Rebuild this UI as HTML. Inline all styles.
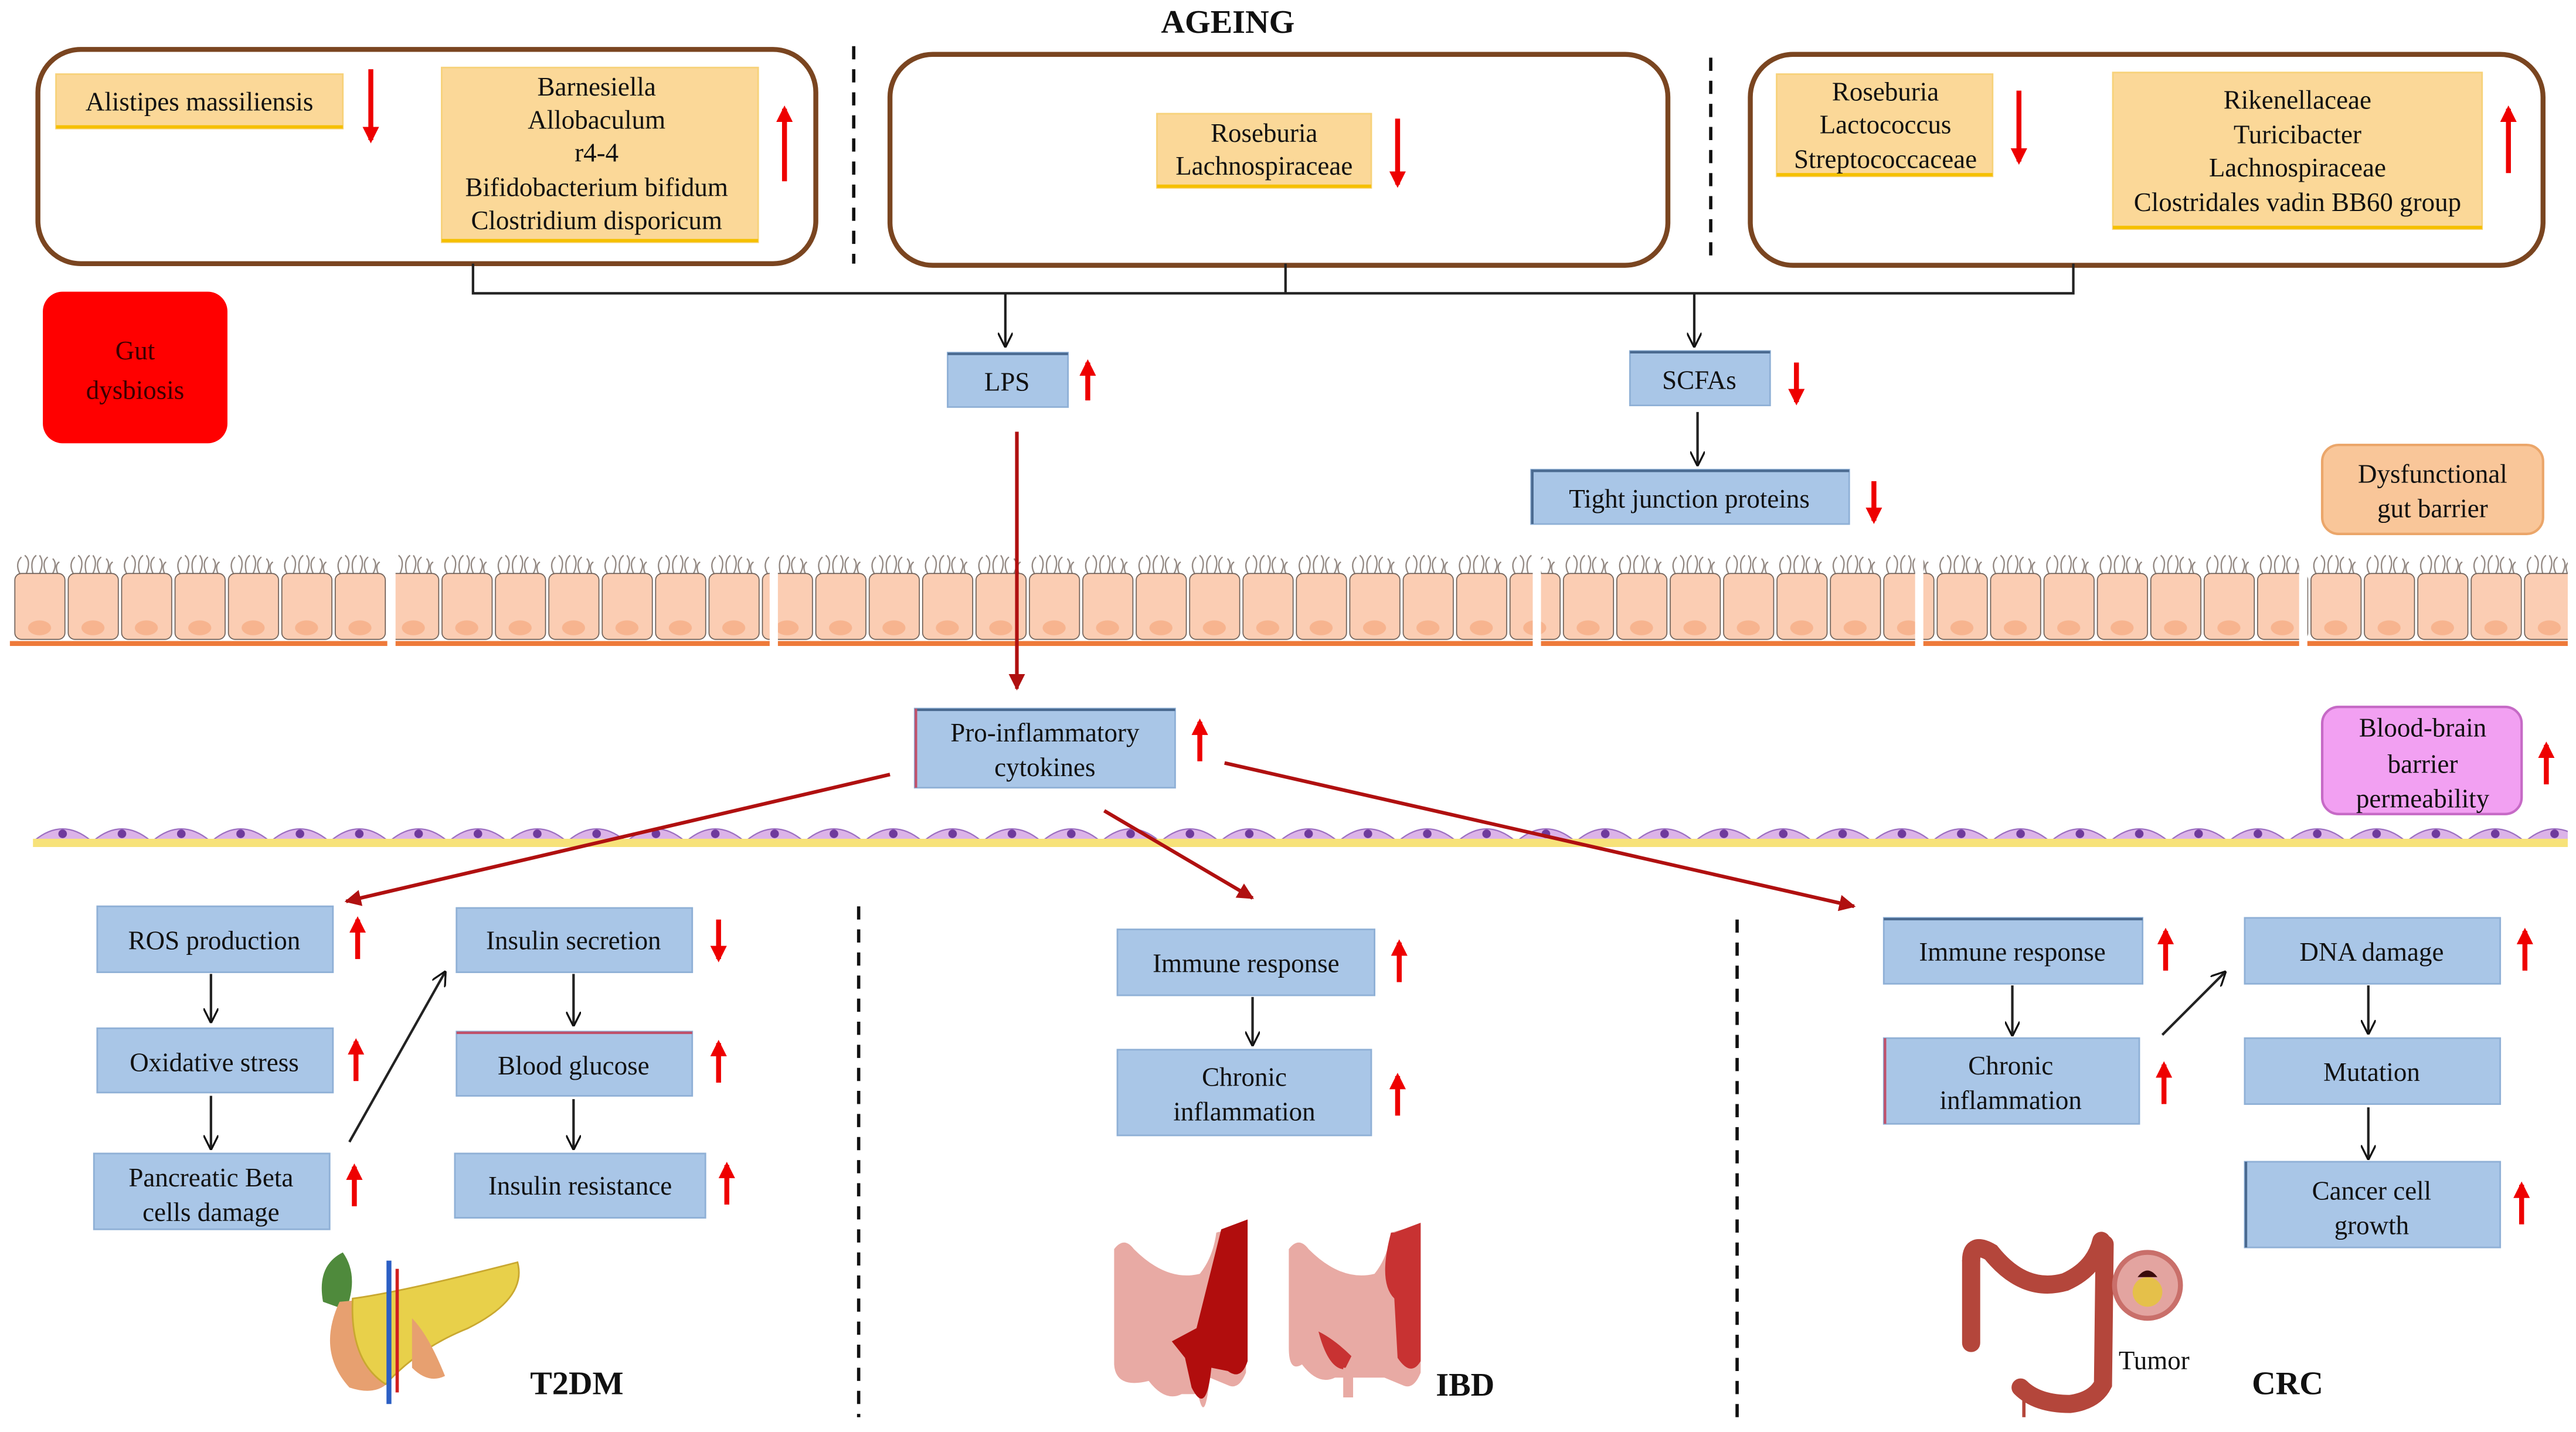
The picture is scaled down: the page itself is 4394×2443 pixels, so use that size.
<!DOCTYPE html>
<html><head><meta charset="utf-8"><style>
html,body{margin:0;padding:0;background:#fff;}
svg{display:block}
text{font-family:"Liberation Serif",serif;fill:#111;}
</style></head><body>
<svg width="4394" height="2443" viewBox="0 0 1563 869" xmlns="http://www.w3.org/2000/svg">
<defs>
<marker id="bk" viewBox="0 0 10 10" refX="9" refY="5" markerWidth="9" markerHeight="9" markerUnits="userSpaceOnUse" orient="auto"><path d="M0,0 L10,5 L0,10" fill="none" stroke="#111" stroke-width="1.3"/></marker>
<marker id="dr" viewBox="0 0 10 10" refX="9" refY="5" markerWidth="10" markerHeight="10" markerUnits="userSpaceOnUse" orient="auto"><path d="M0,0 L10,5 L0,10 z" fill="#b01010"/></marker>
<marker id="rd" viewBox="0 0 10 10" refX="8" refY="5" markerWidth="10" markerHeight="10" markerUnits="userSpaceOnUse" orient="auto"><path d="M0,0 L10,5 L0,10 z" fill="#ee0000"/></marker>
<pattern id="cells" x="8" y="336" width="32.4" height="56" patternUnits="userSpaceOnUse">
<g stroke="#8f847e" stroke-width="0.8" fill="none"><path d="M4,12 q-3,-6 1,-10 M8,12 q3,-8 -1,-11 M12,12 q-2,-8 2,-11 M16,12 q3,-7 0,-11 M20,12 q-3,-7 1,-10 M24,12 q3,-6 0,-9 M27,12 q-2,-5 1,-7"/></g>
<rect x="1" y="12" width="30.4" height="40" rx="4" fill="#fbcdb3" stroke="#6b5d55" stroke-width="0.6"/>
<ellipse cx="16" cy="45" rx="7" ry="4.5" fill="#f7b48f"/>
</pattern>
<pattern id="endo" x="20" y="498" width="36" height="20" patternUnits="userSpaceOnUse">
<path d="M1,12 Q18,-2 35,12 Z" fill="#dcb3e8" stroke="#9a6cc0" stroke-width="0.8"/>
<circle cx="18" cy="8" r="2.6" fill="#6f3a9c"/>
</pattern>
</defs>

<text x="745" y="20" font-size="20" font-weight="bold" text-anchor="middle">AGEING</text>
<g stroke="#111" stroke-width="2" stroke-dasharray="8,6">
<line x1="518" y1="28" x2="518" y2="160"/><line x1="1038" y1="35" x2="1038" y2="160"/>
<line x1="521" y1="550" x2="521" y2="860"/><line x1="1054" y1="558" x2="1054" y2="860"/>
</g>

<g fill="none" stroke="#7a4520" stroke-width="3">
<rect x="23" y="30" width="472" height="130" rx="26"/>
<rect x="540" y="33" width="472" height="128" rx="26"/>
<rect x="1062" y="33" width="481" height="128" rx="26"/>
</g>
<g fill="#fbd898" stroke="#f7d27a" stroke-width="1">
<rect x="34" y="45" width="174" height="33"/>
<rect x="268" y="41" width="192" height="106"/>
<rect x="702" y="69" width="130" height="45"/>
<rect x="1078" y="45" width="131" height="62"/>
<rect x="1282" y="44" width="224" height="95"/>
</g>
<g fill="#f5c000"><rect x="34" y="76" width="174" height="2"/><rect x="268" y="145" width="192" height="2"/><rect x="702" y="112" width="130" height="2"/><rect x="1078" y="105" width="131" height="2"/><rect x="1282" y="137" width="224" height="2"/></g>
<g font-size="16" text-anchor="middle">
<text x="121" y="67">Alistipes massiliensis</text>
<text x="362" y="58">Barnesiella</text><text x="362" y="78">Allobaculum</text><text x="362" y="98">r4-4</text><text x="362" y="119">Bifidobacterium bifidum</text><text x="362" y="139">Clostridium disporicum</text>
<text x="767" y="86">Roseburia</text><text x="767" y="106">Lachnospiraceae</text>
<text x="1144" y="61">Roseburia</text><text x="1144" y="81">Lactococcus</text><text x="1144" y="102">Streptococcaceae</text>
<text x="1394" y="66">Rikenellaceae</text><text x="1394" y="87">Turicibacter</text><text x="1394" y="107">Lachnospiraceae</text><text x="1394" y="128">Clostridales vadin BB60 group</text>
</g>

<g stroke="#ee0000" stroke-width="3" marker-end="url(#rd)">
<line x1="225" y1="42" x2="225" y2="85"/>
<line x1="476" y1="110" x2="476" y2="66"/>
<line x1="848" y1="72" x2="848" y2="112"/>
<line x1="1225" y1="55" x2="1225" y2="98"/>
<line x1="1522" y1="105" x2="1522" y2="66"/>
<line x1="660" y1="243" x2="660" y2="220"/>
<line x1="1090" y1="220" x2="1090" y2="244"/>
<line x1="1137" y1="292" x2="1137" y2="316"/>
<line x1="728" y1="462" x2="728" y2="438"/>
<line x1="1545" y1="476" x2="1545" y2="452"/>
<line x1="217" y1="582" x2="217" y2="558"/>
<line x1="436" y1="558" x2="436" y2="582"/>
<line x1="216" y1="656" x2="216" y2="632"/>
<line x1="436" y1="657" x2="436" y2="633"/>
<line x1="215" y1="732" x2="215" y2="708"/>
<line x1="441" y1="731" x2="441" y2="707"/>
<line x1="849" y1="596" x2="849" y2="572"/>
<line x1="848" y1="677" x2="848" y2="653"/>
<line x1="1314" y1="589" x2="1314" y2="565"/>
<line x1="1313" y1="670" x2="1313" y2="646"/>
<line x1="1532" y1="589" x2="1532" y2="565"/>
<line x1="1530" y1="743" x2="1530" y2="719"/>
</g>

<g stroke="#222" stroke-width="1.5" fill="none">
<polyline points="287,160 287,178 1258,178 1258,160"/>
<line x1="780" y1="160" x2="780" y2="178"/>
<line x1="610" y1="178" x2="610" y2="210" marker-end="url(#bk)"/>
<line x1="1028" y1="178" x2="1028" y2="210" marker-end="url(#bk)"/>
<line x1="1030" y1="250" x2="1030" y2="282" marker-end="url(#bk)"/>
<line x1="128" y1="591" x2="128" y2="620" marker-end="url(#bk)"/>
<line x1="128" y1="665" x2="128" y2="697" marker-end="url(#bk)"/>
<line x1="348" y1="591" x2="348" y2="622" marker-end="url(#bk)"/>
<line x1="348" y1="667" x2="348" y2="697" marker-end="url(#bk)"/>
<line x1="212" y1="693" x2="270" y2="590" marker-end="url(#bk)"/>
<line x1="760" y1="605" x2="760" y2="634" marker-end="url(#bk)"/>
<line x1="1221" y1="598" x2="1221" y2="628" marker-end="url(#bk)"/>
<line x1="1312" y1="628" x2="1350" y2="590" marker-end="url(#bk)"/>
<line x1="1437" y1="598" x2="1437" y2="627" marker-end="url(#bk)"/>
<line x1="1437" y1="672" x2="1437" y2="703" marker-end="url(#bk)"/>
</g>

<rect x="26" y="177" width="112" height="92" rx="12" fill="#ff0000"/>
<text x="82" y="218" font-size="16" text-anchor="middle" style="fill:#3a0000">Gut</text>
<text x="82" y="242" font-size="16" text-anchor="middle" style="fill:#3a0000">dysbiosis</text>

<rect x="1409" y="270" width="134" height="54" rx="10" fill="#f9c699" stroke="#eba66a" stroke-width="1.5"/>
<text x="1476" y="293" font-size="16" text-anchor="middle">Dysfunctional</text>
<text x="1476" y="314" font-size="16" text-anchor="middle">gut barrier</text>
<rect x="1409" y="429" width="121" height="65" rx="10" fill="#f2a0f2" stroke="#c66ac6" stroke-width="1.5"/>
<text x="1470" y="447" font-size="16" text-anchor="middle">Blood-brain</text>
<text x="1470" y="469" font-size="16" text-anchor="middle">barrier</text>
<text x="1470" y="490" font-size="16" text-anchor="middle">permeability</text>

<g>
<rect x="8" y="336" width="227" height="56" fill="url(#cells)"/>
<rect x="240" y="336" width="227" height="56" fill="url(#cells)"/>
<rect x="472" y="336" width="458" height="56" fill="url(#cells)"/>
<rect x="935" y="336" width="227" height="56" fill="url(#cells)"/>
<rect x="1167" y="336" width="228" height="56" fill="url(#cells)"/>
<rect x="1400" y="336" width="158" height="56" fill="url(#cells)"/>
<g fill="#ee7a3a"><rect x="6" y="389" width="229" height="3"/><rect x="240" y="389" width="227" height="3"/><rect x="472" y="389" width="458" height="3"/><rect x="935" y="389" width="227" height="3"/><rect x="1167" y="389" width="228" height="3"/><rect x="1400" y="389" width="158" height="3"/></g>
</g>
<rect x="20" y="498" width="1538" height="12" fill="url(#endo)"/>
<rect x="20" y="509" width="1538" height="5" fill="#f7e27a"/>

<g fill="#a9c6e7" stroke="#8fb0d6" stroke-width="1">
<rect x="575" y="214" width="73" height="33"/>
<rect x="989" y="213" width="85" height="33"/>
<rect x="929" y="285" width="193" height="33"/>
<rect x="555" y="430" width="158" height="48"/>
<rect x="59" y="550" width="143" height="40"/>
<rect x="277" y="551" width="143" height="39"/>
<rect x="59" y="624" width="143" height="39"/>
<rect x="277" y="626" width="143" height="39"/>
<rect x="57" y="700" width="143" height="46"/>
<rect x="276" y="700" width="152" height="39"/>
<rect x="678" y="564" width="156" height="40"/>
<rect x="678" y="637" width="154" height="52"/>
<rect x="1143" y="557" width="157" height="40"/>
<rect x="1143" y="630" width="155" height="52"/>
<rect x="1362" y="557" width="155" height="40"/>
<rect x="1362" y="630" width="155" height="40"/>
<rect x="1362" y="705" width="155" height="52"/>
</g>
<g fill="#4a6a90"><rect x="575" y="214" width="73" height="1.5"/><rect x="989" y="213" width="85" height="1.5"/><rect x="929" y="285" width="193" height="1.5"/><rect x="929" y="285" width="1.5" height="33"/><rect x="555" y="430" width="158" height="1.5"/><rect x="555" y="430" width="1.5" height="48" fill="#c0506a"/><rect x="277" y="626" width="143" height="1.5" fill="#c0506a"/><rect x="1143" y="557" width="157" height="1.5"/><rect x="1143" y="630" width="1.5" height="52" fill="#c0506a"/><rect x="1362" y="705" width="1.5" height="52"/></g>

<g font-size="16" text-anchor="middle">
<text x="611" y="237">LPS</text>
<text x="1031" y="236">SCFAs</text>
<text x="1025" y="308">Tight junction proteins</text>
<text x="634" y="450">Pro-inflammatory</text><text x="634" y="471">cytokines</text>
<text x="130" y="576">ROS production</text>
<text x="348" y="576">Insulin secretion</text>
<text x="130" y="650">Oxidative stress</text>
<text x="348" y="652">Blood glucose</text>
<text x="128" y="720">Pancreatic Beta</text><text x="128" y="741">cells damage</text>
<text x="352" y="725">Insulin resistance</text>
<text x="756" y="590">Immune response</text>
<text x="755" y="659">Chronic</text><text x="755" y="680">inflammation</text>
<text x="1221" y="583">Immune response</text>
<text x="1220" y="652">Chronic</text><text x="1220" y="673">inflammation</text>
<text x="1439" y="583">DNA damage</text>
<text x="1439" y="656">Mutation</text>
<text x="1439" y="728">Cancer cell</text><text x="1439" y="749">growth</text>
</g>

<g stroke="#b01010" stroke-width="2.2" marker-end="url(#dr)">
<line x1="617" y1="262" x2="617" y2="418"/>
<line x1="540" y1="470" x2="210" y2="547"/>
<line x1="670" y1="492" x2="760" y2="545"/>
<line x1="743" y1="463" x2="1125" y2="550"/>
</g>

<!-- pancreas -->
<g>
<path d="M196,790 q-4,-22 12,-30 q10,14 2,35 z" fill="#4f8a3c"/>
<path d="M206,790 q-14,30 6,52 q18,6 26,-6 q-4,-28 -10,-48 z" fill="#e7a070"/>
<path d="M214,788 q30,-4 100,-22 q6,22 -30,40 q-30,12 -50,34 q-22,-14 -20,-52 z" fill="#e8d04a" stroke="#c9a830" stroke-width="1"/>
<path d="M250,800 q10,10 20,35 q-10,5 -20,-5 z" fill="#e7a070"/>
<line x1="236" y1="765" x2="236" y2="852" stroke="#2b5fc4" stroke-width="3"/>
<line x1="241" y1="770" x2="241" y2="845" stroke="#d02020" stroke-width="2"/>
</g>
<!-- IBD colons -->
<g>
<path d="M676,758 q6,-8 12,0 q20,20 40,15 q8,-10 10,-25 l18,-5 l0,90 q-4,10 -10,8 l-12,-5 q-3,30 -7,10 l-10,0 q-10,5 -20,-8 q-20,5 -21,-10 z" fill="#e8aaa4"/>
<path d="M741,746 l16,-6 l0,86 q-4,12 -12,6 l-10,-2 q-3,30 -12,12 l-4,-18 l-8,-10 l15,-8 z" fill="#b10d0d"/>
<path d="M782,758 q6,-8 12,0 q20,20 40,15 q8,-10 10,-25 l18,-5 l0,90 q-4,10 -10,8 l-12,-5 l-30,0 q-10,5 -20,-8 q-8,5 -8,-10 z" fill="#e8aaa4"/>
<path d="M846,748 l16,-6 l0,84 q-6,10 -14,-2 l-2,-36 q-10,-10 -2,-40 z" fill="#c83232"/>
<path d="M800,808 q10,5 20,15 l-4,8 q-10,0 -16,-23 z" fill="#c83232"/>
<path d="M815,830 l6,0 l0,18 l-6,0 z" fill="#e8aaa4"/>
</g>
<!-- CRC colon -->
<g fill="none" stroke="#b4463b" stroke-width="11" stroke-linecap="round">
<path d="M1196,765 q0,-12 12,-5 q20,25 45,18 q18,-8 22,-25"/>
<path d="M1196,765 l0,50"/>
<path d="M1277,755 l-1,85 q-5,10 -20,12 q-20,0 -30,-10"/>
</g>
<path d="M1228,842 l0,18" stroke="#b4463b" stroke-width="2"/>
<circle cx="1303" cy="780" r="20" fill="#e3a4a0" stroke="#c96f6a" stroke-width="3"/>
<circle cx="1303" cy="784" r="9" fill="#e5c04a"/>
<path d="M1297,775 q6,-8 12,0 z" fill="#3a0b0b"/>
<g font-size="20" font-weight="bold" text-anchor="middle">
<text x="350" y="846">T2DM</text><text x="889" y="847">IBD</text><text x="1388" y="846">CRC</text>
</g>
<text x="1307" y="831" font-size="16" text-anchor="middle">Tumor</text>
</svg>
</body></html>
